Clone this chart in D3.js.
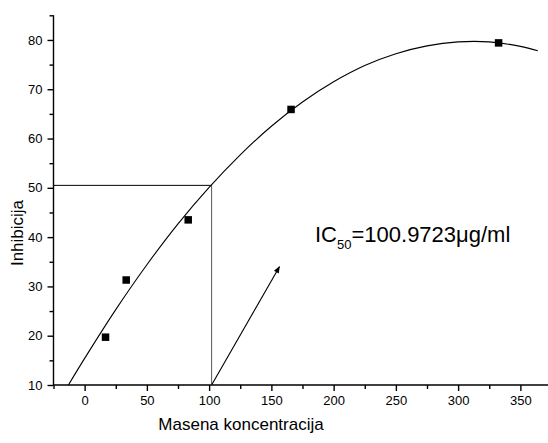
<!DOCTYPE html>
<html>
<head>
<meta charset="utf-8">
<script src="https://cdn.jsdelivr.net/npm/d3@7"></script>
<style>
  body { margin: 0; background: #fff; }
  text { font-family: Arial, "Liberation Sans", sans-serif; fill: #000; }
</style>
</head>
<body>
<svg id="chart" width="548" height="443"></svg>
<script>
// Measured points (concentration, inhibition %)
const concentrations = [16.8, 33.4, 83.2, 165.8, 332.5];
const inhibition = [19.7, 31.3, 43.5, 65.9, 79.4];

// Fitted curve
const curveX = [-13, 0, 25, 50, 75, 100, 125, 150, 175, 200, 225, 250, 275, 300, 325, 350, 364];
const curveY = [10, 15.4, 25.3, 34.4, 42.7, 50.1, 56.7, 62.5, 67.4, 71.5, 74.8, 77.2, 78.8, 79.6, 79.6, 78.7, 77.8];

// IC50 guide lines and arrow
const ic50X = 102;
const ic50Y = 50.5;
const arrowFrom = [102, 10];
const arrowTo = [156.5, 34];

const xTicks = [0, 50, 100, 150, 200, 250, 300, 350];
const yTicks = [10, 20, 30, 40, 50, 60, 70, 80];
const xMinorTicks = [-25, 25, 75, 125, 175, 225, 275, 325, 375];
const yMinorTicks = [15, 25, 35, 45, 55, 65, 75, 85];

const labelText = "IC";
const labelSub = "50";
const labelRest = "=100.9723\u03bcg/ml";
const xTitle = "Masena koncentracija";
const yTitle = "Inhibicija";

const svg = d3.select("#chart");
const x = d3.scaleLinear().domain([-25, 375]).range([53.5, 551.5]);
const y = d3.scaleLinear().domain([10, 85]).range([385, 15.3]);

// Axes
const xAxis = svg.append("g").attr("transform", `translate(0,${y(10)})`)
  .call(d3.axisBottom(x).tickValues(xTicks).tickSize(6).tickPadding(5).tickFormat(d3.format("d")));
svg.append("g").attr("transform", `translate(0,${y(10)})`)
  .call(d3.axisBottom(x).tickValues(xMinorTicks).tickSize(4).tickFormat(""))
  .select(".domain").remove();
const yAxis = svg.append("g").attr("transform", `translate(${x(-25)},0)`)
  .call(d3.axisLeft(y).tickValues(yTicks).tickSize(6).tickPadding(5).tickFormat(d3.format("d")));
svg.append("g").attr("transform", `translate(${x(-25)},0)`)
  .call(d3.axisLeft(y).tickValues(yMinorTicks).tickSize(4).tickFormat(""))
  .select(".domain").remove();

svg.selectAll(".domain").attr("stroke", "#000").attr("stroke-width", 1.4);
svg.selectAll(".tick line").attr("stroke", "#000").attr("stroke-width", 1.4);
svg.selectAll(".tick text").attr("font-size", 13).attr("font-family", "Arial, 'Liberation Sans', sans-serif");
xAxis.select(".domain").attr("d", `M${x(-25)},0H${x(375)}`);
yAxis.select(".domain").attr("d", `M0,${y(85)}V${y(10)}`);

// IC50 guide lines
svg.append("line")
  .attr("x1", x(-25)).attr("x2", x(ic50X))
  .attr("y1", y(ic50Y)).attr("y2", y(ic50Y))
  .attr("stroke", "#000").attr("stroke-width", 1);
svg.append("line")
  .attr("x1", x(ic50X)).attr("x2", x(ic50X))
  .attr("y1", y(ic50Y)).attr("y2", y(10))
  .attr("stroke", "#555").attr("stroke-width", 1);

// Fitted curve
const curveData = curveX.map((d, i) => [d, curveY[i]]);
svg.append("path")
  .datum(curveData)
  .attr("fill", "none")
  .attr("stroke", "#000")
  .attr("stroke-width", 1.1)
  .attr("d", d3.line().x(d => x(d[0])).y(d => y(d[1])).curve(d3.curveCatmullRom.alpha(0.5)));

// Points
const pts = concentrations.map((d, i) => [d, inhibition[i]]);
const s = 7.5;
svg.selectAll("rect.pt").data(pts).enter().append("rect")
  .attr("class", "pt")
  .attr("x", d => x(d[0]) - s / 2)
  .attr("y", d => y(d[1]) - s / 2)
  .attr("width", s).attr("height", s)
  .attr("fill", "#000");

// Arrow
svg.append("defs").append("marker")
  .attr("id", "arrowhead")
  .attr("viewBox", "0 0 10 10")
  .attr("refX", 9).attr("refY", 5)
  .attr("markerWidth", 8).attr("markerHeight", 7)
  .attr("markerUnits", "userSpaceOnUse")
  .attr("orient", "auto")
  .append("path").attr("d", "M0,1 L10,5 L0,9 Z").attr("fill", "#000");
svg.append("line")
  .attr("x1", x(arrowFrom[0])).attr("y1", y(arrowFrom[1]))
  .attr("x2", x(arrowTo[0])).attr("y2", y(arrowTo[1]))
  .attr("stroke", "#000").attr("stroke-width", 1.1)
  .attr("marker-end", "url(#arrowhead)");

// IC50 label
const lbl = svg.append("text").attr("x", 315).attr("y", 242).attr("font-size", 22);
lbl.append("tspan").text(labelText);
lbl.append("tspan").attr("font-size", 13).attr("dy", 7).text(labelSub);
lbl.append("tspan").attr("dy", -7).text(labelRest);

// Axis titles
svg.append("text")
  .attr("x", 241).attr("y", 430)
  .attr("text-anchor", "middle").attr("font-size", 17)
  .text(xTitle);
svg.append("text")
  .attr("transform", "translate(22.5,233) rotate(-90)")
  .attr("text-anchor", "middle").attr("font-size", 17)
  .text(yTitle);
</script>
</body>
</html>
